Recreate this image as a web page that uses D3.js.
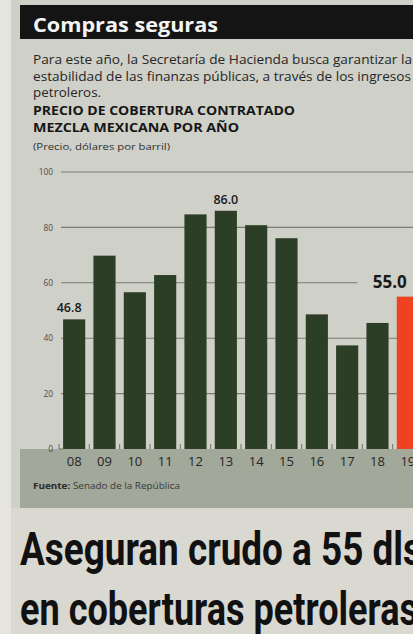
<!DOCTYPE html>
<html><head><meta charset="utf-8">
<script src="https://cdn.jsdelivr.net/npm/d3@7"></script>
<style>html,body{margin:0;padding:0;background:#e4e2dc;overflow:hidden}</style>
</head><body><svg id="c" width="413" height="634"></svg>
<script>
const years = ["08","09","10","11","12","13","14","15","16","17","18","19"];
const prices = [46.8, 69.8, 56.6, 62.8, 84.7, 86.0, 80.8, 76.1, 48.6, 37.4, 45.5, 55.0];
const highlight = ["19"];
const valueLabels = {"08":"46.8","13":"86.0","19":"55.0"};
const yTicks = [0, 20, 40, 60, 80, 100];
const title = "Compras seguras";
const intro = ["Para este año, la Secretaría de Hacienda busca garantizar la",
               "estabilidad de las finanzas públicas, a través de los ingresos",
               "petroleros."];
const heading = ["PRECIO DE COBERTURA CONTRATADO","MEZCLA MEXICANA POR AÑO"];
const unitNote = "(Precio, dólares por barril)";
const source = ["Fuente:"," Senado de la República"];
const headline = ["Aseguran crudo a 55 dls","en coberturas petroleras"];

const svg = d3.select("#c");
const W = 413, H = 634;
const body = "'Open Sans', Lato, sans-serif";
// backgrounds
svg.append("rect").attr("x",0).attr("y",0).attr("width",W).attr("height",H).attr("fill","#e6e4de");
svg.append("rect").attr("x",11).attr("y",0).attr("width",W-11).attr("height",508).attr("fill","#cfd0c8");
svg.append("rect").attr("x",11).attr("y",508).attr("width",W-11).attr("height",H-508).attr("fill","#d9d8d1");
svg.append("rect").attr("x",20).attr("y",5).attr("width",W-20).attr("height",34).attr("fill","#141414");
svg.append("text").attr("x",33).attr("y",32).attr("fill","#f4f4f4")
  .attr("font-family",body).attr("font-weight",700).attr("font-size",20)
  .attr("textLength",185).attr("lengthAdjust","spacingAndGlyphs").text(title);

const introY = [64, 80.5, 96.5];
const introW = [379, 378, 68];
intro.forEach((t,i)=>{
  svg.append("text").attr("x",33).attr("y",introY[i]).attr("fill","#262626")
    .attr("font-family",body).attr("font-size",13.3).text(t)
    .attr("textLength",introW[i]).attr("lengthAdjust","spacingAndGlyphs");
});
const headY=[114.5,131.5], headW=[262,206];
heading.forEach((t,i)=>{
  svg.append("text").attr("x",33).attr("y",headY[i]).attr("fill","#161616")
    .attr("font-family",body).attr("font-weight",700).attr("font-size",12.6)
    .attr("textLength",headW[i]).attr("lengthAdjust","spacingAndGlyphs").text(t);
});
svg.append("text").attr("x",33).attr("y",149.5).attr("fill","#303030")
  .attr("font-family",body).attr("font-size",9.2)
  .attr("textLength",137).attr("lengthAdjust","spacingAndGlyphs").text(unitNote);

// scales
const x = d3.scaleBand().domain(years).range([59, 423]).paddingInner(0.27).paddingOuter(0.135);
const y = d3.scaleLinear().domain([0,100]).range([449, 172]);

// bottom band
svg.append("rect").attr("x",20).attr("y",y(0)).attr("width",W-20).attr("height",508-y(0)).attr("fill","#a2a89a");

// gridlines
svg.append("g").selectAll("line").data(yTicks.filter(d=>d>0)).join("line")
  .attr("x1",61).attr("x2",d=> d===60 ? x("18")-9 : W)
  .attr("y1",d=>y(d)).attr("y2",d=>y(d)).attr("stroke","#7a7b72").attr("stroke-width",1.1);
// y axis labels
const ya = svg.append("g").attr("transform","translate(53,0)")
  .call(d3.axisLeft(y).tickValues(yTicks).tickSize(0).tickPadding(0));
ya.select(".domain").remove();
ya.selectAll("text").attr("font-family",body).attr("font-size",8.3).attr("fill","#4a4a4a");

// bars
svg.append("g").selectAll("rect").data(years).join("rect")
  .attr("x",d=>x(d)).attr("width",x.bandwidth())
  .attr("y",(d,i)=>y(prices[i])).attr("height",(d,i)=>y(0)-y(prices[i]))
  .attr("fill",d=>highlight.includes(d)?"#ee4220":"#2c3f26");

// baseline ticks
const gap = x.step() - x.bandwidth();
const tickXs = years.map(d=>x(d)-gap/2);
svg.append("g").selectAll("line").data(tickXs).join("line")
  .attr("x1",d=>d).attr("x2",d=>d).attr("y1",y(0)-5).attr("y2",y(0)).attr("stroke","#6d6e66").attr("stroke-width",1);
svg.append("line").attr("x1",tickXs[0]).attr("x2",x("08")).attr("y1",y(0)).attr("y2",y(0)).attr("stroke","#6d6e66");

// x labels
const xa = svg.append("g").attr("transform",`translate(0,${y(0)+17})`)
  .call(d3.axisBottom(x).tickSize(0).tickPadding(0));
xa.select(".domain").remove();
xa.selectAll("text").attr("font-family",body).attr("font-size",13).attr("fill","#262626").attr("dy",0);

// value labels
years.forEach((d,i)=>{
  if (!valueLabels[d]) return;
  const hi = highlight.includes(d);
  const t = svg.append("text").attr("fill","#1a1a1a").attr("font-family",body).text(valueLabels[d]);
  if (hi) {
    t.attr("x",x(d)-24).attr("y",y(prices[i])-9).attr("font-size",17).attr("font-weight",700);
  } else {
    t.attr("x",x(d)+x.bandwidth()/2 - (d==="08"?5:0)).attr("y",y(prices[i])-7).attr("text-anchor","middle")
     .attr("font-size",12.5).attr("font-weight",600);
  }
});

// source
const src = svg.append("text").attr("x",33).attr("y",489).attr("fill","#2a2a2a")
  .attr("font-family",body).attr("font-size",9)
  .attr("textLength",147).attr("lengthAdjust","spacingAndGlyphs");
src.append("tspan").attr("font-weight",700).text(source[0]);
src.append("tspan").attr("fill","#3a3a3a").text(source[1]);

// headline
const hlY=[564.5,625], hlW=[402,398];
headline.forEach((t,i)=>{
  svg.append("text").attr("x",20).attr("y",hlY[i]).attr("fill","#111")
    .attr("font-family","Roboto, 'Open Sans', sans-serif").attr("font-weight",700).attr("font-size",47)
    .attr("textLength",hlW[i]).attr("lengthAdjust","spacingAndGlyphs").text(t);
});
</script></body></html>
